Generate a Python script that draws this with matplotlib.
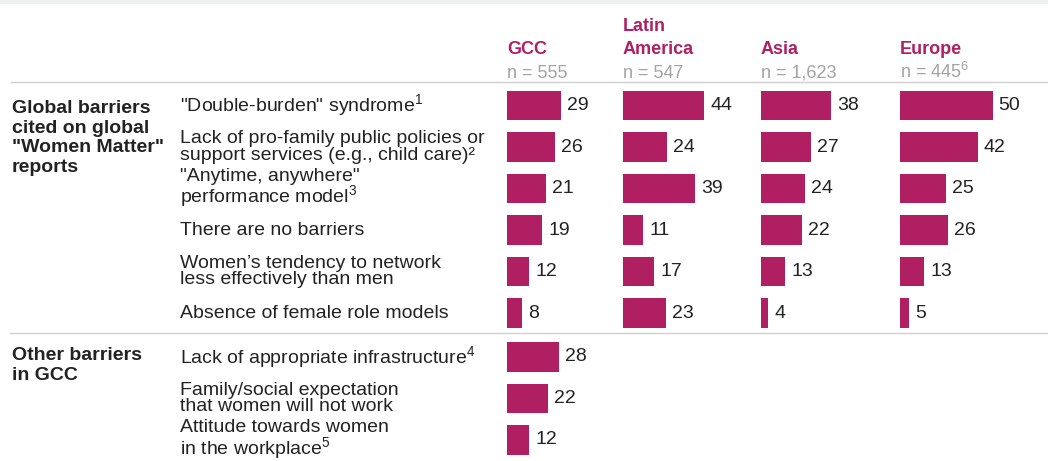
import numpy as np
import matplotlib
matplotlib.use('Agg')
import matplotlib.pyplot as plt
from matplotlib.lines import Line2D
from matplotlib.patches import Rectangle

plt.rcParams['font.family'] = ['Liberation Sans', 'DejaVu Sans']
plt.rcParams['mathtext.fontset'] = 'custom'
plt.rcParams['mathtext.rm'] = 'Liberation Sans'
plt.rcParams['mathtext.it'] = 'Liberation Sans:italic'
plt.rcParams['mathtext.bf'] = 'Liberation Sans:bold'

# data
groups = ['Global barriers\ncited on global\n"Women Matter"\nreports', 'Other barriers\nin GCC']
barriers = ['"Double-burden" syndrome$^1$',
            'Lack of pro-family public policies or\nsupport services (e.g., child care)\u00b2',
            '"Anytime, anywhere"\nperformance model$^3$',
            'There are no barriers',
            'Women\u2019s tendency to network\nless effectively than men',
            'Absence of female role models',
            'Lack of appropriate infrastructure$^4$',
            'Family/social expectation\nthat women will not work',
            'Attitude towards women\nin the workplace$^5$']
n_global = 6
regions = ['GCC', 'Latin\nAmerica', 'Asia', 'Europe']
sample_sizes = ['n = 555', 'n = 547', 'n = 1,623', 'n = 445$^6$']
gcc = [29, 26, 21, 19, 12, 8, 28, 22, 12]
latin_america = [44, 24, 39, 11, 17, 23]
asia = [38, 27, 24, 22, 13, 4]
europe = [50, 42, 25, 26, 13, 5]

BAR = '#B01F62'
TXT = '#222222'
GREY = '#A3A3A3'
W, H = 1048, 461
fig = plt.figure(figsize=(W / 100, H / 100), dpi=100)


def fx(x):
    return x / W


def fy(y):
    return 1 - y / H


# layout in pixels: first row centre, row step, top of plotting area
row0, step, top = 105.5, 41.5, 84
idx = np.arange(len(barriers))
ypos = idx + np.where(idx >= n_global, 0.06, 0)
ylim = ((H - row0) / step, (top - row0) / step)
ppu = 1.85  # pixels per percentage point

# top band + separators
fig.add_artist(Rectangle((0, fy(4)), 1, 4 / H, transform=fig.transFigure, color='#EEF0F2', lw=0))
fig.add_artist(Line2D([fx(11), 1], [fy(82), fy(82)], color='#CFCFCF', lw=1))
fig.add_artist(Line2D([fx(10), 1], [fy(333), fy(333)], color='#CFCFCF', lw=1))

# row labels
lab = fig.add_axes([0, 0, fx(500), 1 - top / H])
lab.set_xlim(0, 500)
lab.set_ylim(*ylim)
lab.axis('off')
for y, s in zip(ypos, barriers):
    lab.text(180, y, s, va='center', ha='left', fontsize=14, color=TXT, linespacing=0.95)

fig.text(fx(12), fy(100), groups[0], va='top', ha='left', fontsize=14, fontweight='bold',
         color=TXT, linespacing=1.2)
fig.text(fx(12), fy(347), groups[1], va='top', ha='left', fontsize=14, fontweight='bold',
         color=TXT, linespacing=1.2)

col_x = [507, 623, 761, 900]
for x0, name, n, vals in zip(col_x, regions, sample_sizes, [gcc, latin_america, asia, europe]):
    ax = fig.add_axes([fx(x0), 0, fx(110), 1 - top / H])
    ax.barh(ypos[:len(vals)], vals, height=0.7, color=BAR)
    ax.set_xlim(0, 110 / ppu)
    ax.set_ylim(*ylim)
    ax.axis('off')
    for y, v in zip(ypos, vals):
        ax.text(v + 6 / ppu, y, str(v), va='center', ha='left', fontsize=14, color=TXT)
    fig.text(fx(x0), fy(58), name, ha='left', va='bottom', fontsize=13, fontweight='bold',
             color=BAR, linespacing=1.43)
    fig.text(fx(x0), fy(78), n, ha='left', va='baseline', fontsize=13, color=GREY)

fig.savefig('out.png', dpi=100)
